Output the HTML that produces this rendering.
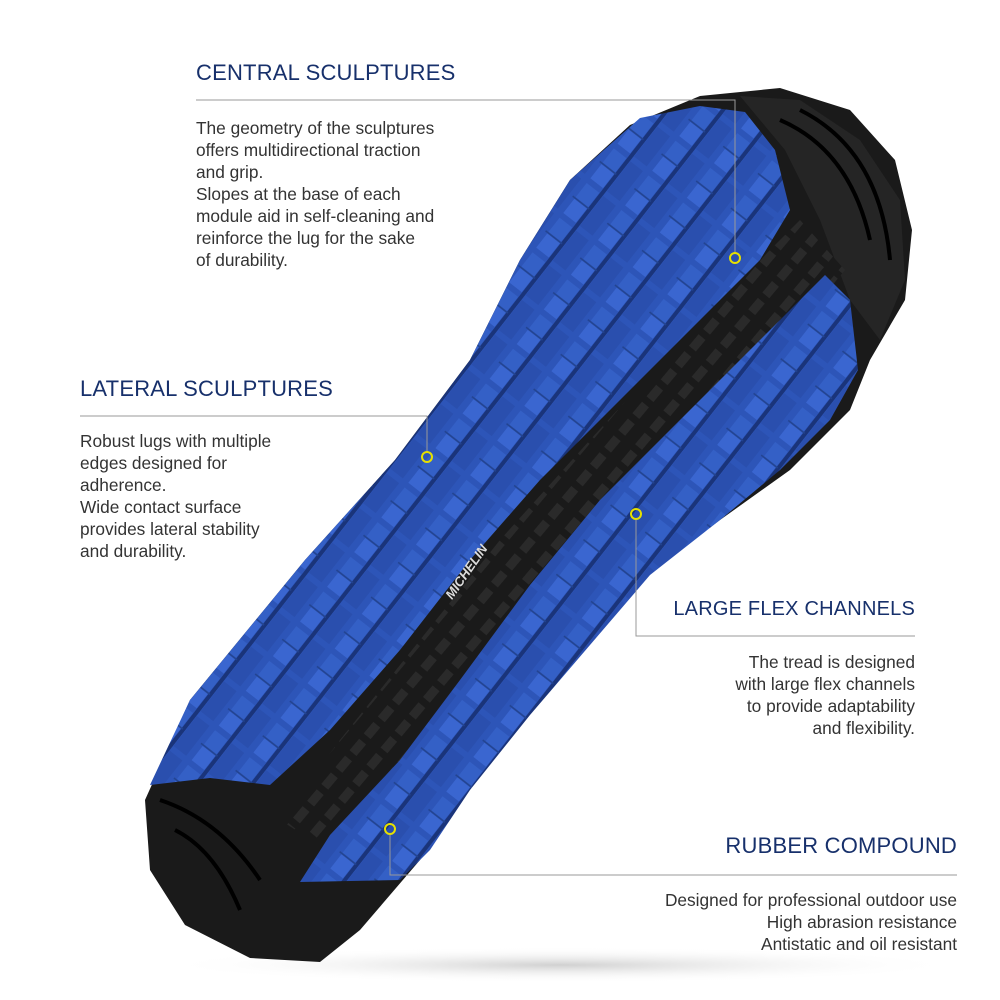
<!DOCTYPE html>
<html><head><meta charset="utf-8"><style>
body{margin:0;background:#fff;}
#c{position:relative;width:1000px;height:1000px;overflow:hidden;background:#fff;font-family:"Liberation Sans",sans-serif;}
.h{position:absolute;color:#17306b;font-size:22px;letter-spacing:0.2px;white-space:nowrap;}
.p{position:absolute;color:#333;font-size:17.3px;line-height:22px;white-space:nowrap;}
.r{text-align:right;}
</style></head><body><div id="c">
<svg width="1000" height="1000" style="position:absolute;left:0;top:0">
<defs>
<pattern id="lug" width="44" height="44" patternUnits="userSpaceOnUse" patternTransform="rotate(-52)">
<rect width="44" height="44" fill="#2d55b8"/>
<rect x="3" y="3" width="18" height="16" fill="#3a66d0"/>
<rect x="23" y="3" width="18" height="16" fill="#3460c6"/>
<rect x="3" y="24" width="38" height="16" fill="#2a4fae"/>
<line x1="0" y1="21.5" x2="44" y2="21.5" stroke="#1a347a" stroke-width="4"/>
<line x1="22" y1="0" x2="22" y2="21" stroke="#22438f" stroke-width="1.5"/>
</pattern>
<pattern id="blk" width="22" height="22" patternUnits="userSpaceOnUse" patternTransform="rotate(-50)">
<rect width="22" height="22" fill="#1a1a1a"/>
<rect x="2" y="2" width="15" height="9" fill="#2a2a2a"/>
</pattern>
<radialGradient id="sh" cx="50%" cy="50%" r="50%"><stop offset="0" stop-color="#d0d0d0"/><stop offset="1" stop-color="#fff" stop-opacity="0"/></radialGradient>
</defs>
<ellipse cx="560" cy="965" rx="400" ry="18" fill="url(#sh)"/>
<path d="M700,96 L780,88 L850,110 L895,160 L912,230 L905,300 L870,360 L850,410 L790,470 L720,520 L640,580 L580,650 L520,720 L460,800 L420,860 L360,930 L320,962 L250,958 L185,925 L150,870 L145,800 L190,700 L305,560 L395,460 L470,360 L520,260 L570,180 L630,125 Z" fill="#1a1a1a"/>
<path d="M740,96 L800,100 L860,140 L900,200 L905,280 L880,340 L850,300 L820,220 L785,150 Z" fill="#252525"/>
<path d="M780,120 Q850,150 870,240 M800,110 Q880,150 890,260" stroke="#000" stroke-width="4" fill="none"/>
<path d="M800,220 L845,270 L770,360 L650,470 L570,560 L480,670 L400,770 L335,855 L280,820 L340,740 L420,640 L500,540 L590,440 L700,320 Z" fill="url(#blk)"/>
<path d="M640,118 L700,106 L745,112 L775,150 L790,210 L760,260 L700,320 L620,400 L540,480 L470,560 L400,650 L330,730 L270,785 L210,778 L150,785 L190,700 L305,560 L395,460 L470,360 L520,260 L570,180 Z" fill="url(#lug)"/>
<path d="M825,275 L850,300 L858,370 L830,420 L780,470 L720,520 L650,575 L590,645 L530,715 L470,790 L430,850 L400,880 L300,882 L330,835 L400,760 L460,680 L530,585 L600,500 L680,420 L760,340 Z" fill="url(#lug)"/>
<path d="M160,800 Q220,820 260,880 M175,830 Q215,850 240,910" stroke="#000" stroke-width="4" fill="none"/>
<text x="0" y="0" transform="translate(452,600) rotate(-55)" fill="#ddd" font-size="13" font-weight="bold" font-style="italic" font-family="Liberation Sans">MICHELIN</text>
<g stroke="#999" stroke-width="1" fill="none">
<polyline points="196,100 735,100 735,252"/>
<polyline points="80,416 427,416 427,452"/>
<polyline points="915,636 636,636 636,519"/>
<polyline points="957,875 390,875 390,835"/>
</g>
<g stroke="#e6e000" stroke-width="2" fill="none">
<circle cx="735" cy="258" r="5"/><circle cx="427" cy="457" r="5"/>
<circle cx="636" cy="514" r="5"/><circle cx="390" cy="829" r="5"/>
</g>
</svg>
<div class="h" style="left:196px;top:60px">CENTRAL SCULPTURES</div>
<div class="p" style="left:196px;top:117px">The geometry of the sculptures<br>offers multidirectional traction<br>and grip.<br>Slopes at the base of each<br>module aid in self-cleaning and<br>reinforce the lug for the sake<br>of durability.</div>
<div class="h" style="left:80px;top:376px">LATERAL SCULPTURES</div>
<div class="p" style="left:80px;top:430px">Robust lugs with multiple<br>edges designed for<br>adherence.<br>Wide contact surface<br>provides lateral stability<br>and durability.</div>
<div class="h r" style="right:85px;top:598px;font-size:20px">LARGE FLEX CHANNELS</div>
<div class="p r" style="right:85px;top:651px">The tread is designed<br>with large flex channels<br>to provide adaptability<br>and flexibility.</div>
<div class="h r" style="right:43px;top:833px">RUBBER COMPOUND</div>
<div class="p r" style="right:43px;top:889px">Designed for professional outdoor use<br>High abrasion resistance<br>Antistatic and oil resistant</div>
</div></body></html>
